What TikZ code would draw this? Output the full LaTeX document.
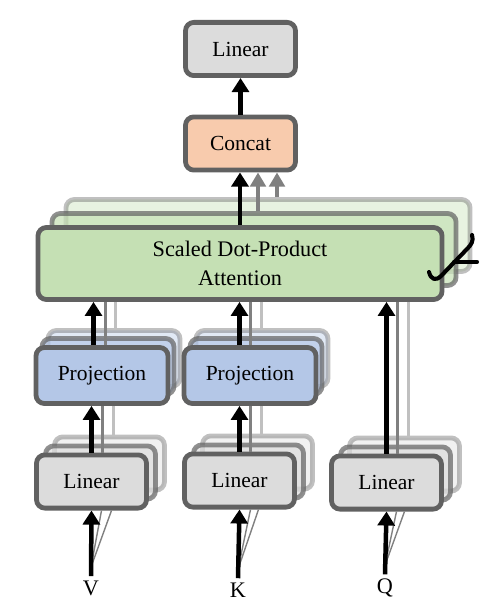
\documentclass[tikz,border=0pt]{standalone}
\usepackage{fontspec}
\setmainfont{Liberation Serif}
\usetikzlibrary{
    arrows.meta,
    positioning,
    calc,
    backgrounds
}
\definecolor{boxgray}{RGB}{97, 97, 97}
\definecolor{lingray}{RGB}{220, 220, 220}
\definecolor{projblue}{RGB}{180, 199, 231}
\definecolor{concatpeach}{RGB}{248, 203, 173}
\definecolor{attngreen}{RGB}{197, 224, 180}
\definecolor{headgray}{RGB}{128, 128, 128}
\definecolor{headlight}{RGB}{192, 192, 192}

\begin{document}
\begin{tikzpicture}[
        x=0.025cm, y=-0.025cm,
        block/.style={draw=boxgray, line width=3.4pt, rounded corners=6pt, minimum width=2.75cm, minimum height=1.33cm, align=center, inner sep=0pt, font=\fontsize{15.3}{20.5}\selectfont},
        linear/.style={block, fill=lingray},
        proj/.style={block, fill=projblue, minimum width=3.3cm, minimum height=1.4cm},
        attn/.style={block, fill=attngreen, minimum width=10.1cm, minimum height=1.8cm, font=\fontsize{15.8}{20.5}\selectfont},
        layerb/.style={opacity=0.7},
        layerc/.style={opacity=0.4},
        arrow/.style={-{Triangle[length=10pt, width=12pt]}, line width=3.2pt},
        headline/.style={headgray, line width=2.8pt},
        lightline/.style={headlight, line width=2.8pt},
        headarrow/.style={-{Triangle[length=10pt, width=11pt]}, headgray, line width=2.6pt},
        fanline/.style={headgray, line width=1pt},
        inlabel/.style={inner sep=3pt, font=\fontsize{15.8}{18}\selectfont},
        hbrace/.style={line width=2.9pt, line cap=round, line join=round}
    ]
        \useasboundingbox (0,0) rectangle (488,616);

        % Output side
        \node[linear] (outlin) at (240.5, 49) {Linear};
        \node[block, fill=concatpeach] (concat) at (240.5, 143.5) {Concat};

        % Attention
        \node[attn] (sdpa) at (240, 263.5) {Scaled Dot-Product\\Attention};

        % Projections
        \node[proj] (projV) at (102, 375.5) {Projection};
        \node[proj] (projK) at (250, 375.5) {Projection};

        % Input linears
        \node[linear] (linV) at (91.5, 481.5) {Linear};
        \node[linear] (linK) at (239.5, 480.5) {Linear};
        \node[linear] (linQ) at (386.5, 482.5) {Linear};

        % Inputs
        \node[inlabel] (inV) at (91, 588) {V};
        \node[inlabel] (inK) at (238, 590) {K};
        \node[inlabel] (inQ) at (385, 588) {Q};

        % Stacked heads behind
        \begin{scope}[on background layer]
            \node[attn, layerc] (sdpac) at ($(sdpa)+(28,-28)$) {};
            \node[attn, layerb] (sdpab) at ($(sdpa)+(14,-14)$) {};
            \node[proj, layerc] (projVc) at ($(projV)+(12,-17)$) {};
            \node[proj, layerb] (projVb) at ($(projV)+(6,-9)$) {};
            \node[proj, layerc] (projKc) at ($(projK)+(12,-17)$) {};
            \node[proj, layerb] (projKb) at ($(projK)+(6,-9)$) {};
            \node[linear, layerc] (linVc) at ($(linV)+(18,-18)$) {};
            \node[linear, layerb] (linVb) at ($(linV)+(9,-9)$) {};
            \node[linear, layerc] (linKc) at ($(linK)+(18,-18)$) {};
            \node[linear, layerb] (linKb) at ($(linK)+(9,-9)$) {};
            \node[linear, layerc] (linQc) at ($(linQ)+(18,-18)$) {};
            \node[linear, layerb] (linQb) at ($(linQ)+(9,-9)$) {};
        \end{scope}

        % Head connections
        \draw[lightline] ($(linVc.north -| linV.north)+(22,0)$) -- ($(linV.north |- projV.south)+(22,0)$);
        \draw[headline] ($(linV.north)+(11,0)$) -- ($(linV.north |- projV.south)+(11,0)$);
        \draw[lightline] ($(linKc.north -| linK.north)+(22,0)$) -- ($(linK.north |- projK.south)+(22,0)$);
        \draw[headline] ($(linK.north)+(11,0)$) -- ($(linK.north |- projK.south)+(11,0)$);
        \draw[lightline] ($(projVc.north -| linV.north)+(24,0)$) -- ($(linV.north |- sdpa.south)+(24,0)$);
        \draw[headline] ($(linV.north |- projV.north)+(14,0)$) -- ($(linV.north |- sdpa.south)+(14,0)$);
        \draw[lightline] ($(projKc.north -| linK.north)+(22,0)$) -- ($(linK.north |- sdpa.south)+(22,0)$);
        \draw[headline] ($(linK.north |- projK.north)+(11,0)$) -- ($(linK.north |- sdpa.south)+(11,0)$);
        \draw[lightline] ($(linQc.north -| linQ.north)+(22,0)$) -- ($(linQ.north |- sdpa.south)+(22,0)$);
        \draw[headline] ($(linQ.north)+(11,0)$) -- ($(linQ.north |- sdpa.south)+(11,0)$);
        \draw[headarrow] ($(sdpab.north)+(4,0)$) -- ($(sdpab.north |- concat.south)+(4,0)$);
        \draw[headarrow] ($(sdpac.north)+(9,0)$) -- ($(sdpac.north |- concat.south)+(9,0)$);

        % Input fans
        \draw[fanline] ($(inV.north)+(0,-9)$) -- ($(linV.south)+(10,0)$);
        \draw[fanline] ($(inV.north)+(0,-9)$) -- ($(linV.south)+(20,0)$);
        \draw[fanline] ($(inK.north)+(0,-9)$) -- ($(linK.south)+(11,0)$);
        \draw[fanline] ($(inK.north)+(0,-9)$) -- ($(linK.south)+(19,0)$);
        \draw[fanline] ($(inQ.north)+(0,-9)$) -- ($(linQ.south)+(10,0)$);
        \draw[fanline] ($(inQ.north)+(0,-9)$) -- ($(linQ.south)+(18,0)$);

        % Arrows
        \draw[arrow] (inV.north) -- (linV.south);
        \draw[arrow] (inK.north) -- (linK.south);
        \draw[arrow] (inQ.north) -- (linQ.south);
        \draw[arrow] (linV.north) -- (linV.north |- projV.south);
        \draw[arrow] (linK.north) -- (linK.north |- projK.south);
        \draw[arrow] ($(linV.north |- projV.north)+(2,0)$) -- ($(linV.north |- sdpa.south)+(2,0)$);
        \draw[arrow] (linK.north |- projK.north) -- (linK.north |- sdpa.south);
        \draw[arrow] (linQ.north) -- (linQ.north |- sdpa.south);
        \draw[arrow] (sdpa.north) -- (sdpa.north |- concat.south);
        \draw[arrow] (concat) -- (outlin);

        % h heads mark
        \draw[hbrace] (429, 272) .. controls (431, 280) and (436, 281) .. (441, 276) -- (467, 249) .. controls (471, 245) and (474, 241) .. (472, 235);
        \draw[hbrace] (454, 262) -- (477, 262);
    \end{tikzpicture}
\end{document}
